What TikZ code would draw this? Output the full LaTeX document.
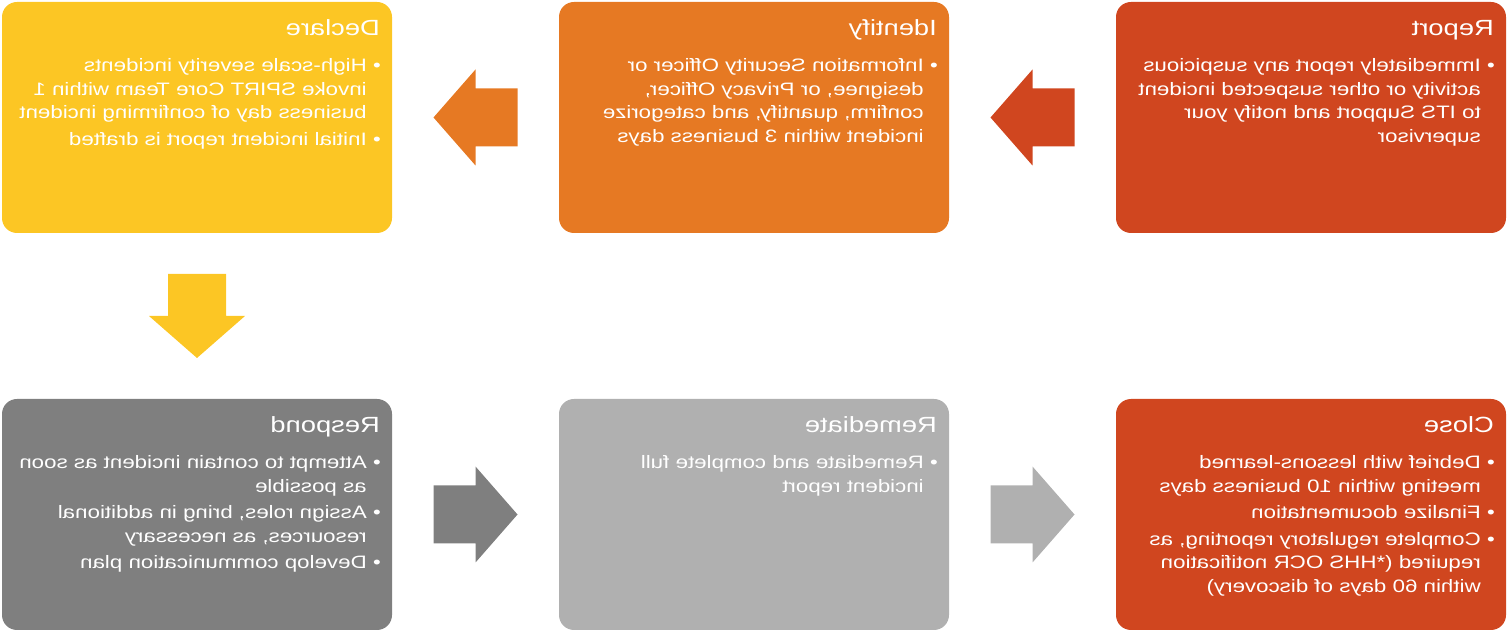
\documentclass[tikz,border=0pt]{standalone}
\usepackage{fontspec}
\setmainfont{Liberation Sans}
\usetikzlibrary{positioning, calc}
\definecolor{declareyellow}{RGB}{252,198,36}
\definecolor{identifyorange}{RGB}{230,121,35}
\definecolor{reportred}{RGB}{208,70,31}
\definecolor{respondgray}{RGB}{127,127,127}
\definecolor{remediategray}{RGB}{176,176,176}

% block arrow: centre, rotation, colour
\newcommand{\blockarrow}[3]{%
  \fill[#3, shift={(#1)}, rotate=#2] (-42,-29) -- (0,-29) -- (0,-48) -- (42,0)
    -- (0,48) -- (0,29) -- (-42,29) -- cycle;}
% bullet list
\newcommand{\itemlist}[1]{\begin{tabular}[t]{@{}l@{\hspace{5pt}}l@{}}#1\end{tabular}}

\begin{document}
\begin{tikzpicture}[x=1pt, y=1pt,
    stage/.style={rectangle, rounded corners=15pt, minimum width=390pt,
        minimum height=231pt, inner sep=0, outer sep=0},
    headtext/.style={text=white, font={\fontsize{22}{26}\selectfont},
        inner sep=0, anchor=base west, xscale=-1.24, transform shape},
    bullettext/.style={text=white, font={\fontsize{18}{23.5}\selectfont},
        inner sep=0, anchor=base west, xscale=-1.24, transform shape},
    node distance=167pt]
    \useasboundingbox (0,0) rectangle (1508,632);

    % top row
    \node[stage, fill=declareyellow] (declare) at (197,514.5) {};
    \node[stage, fill=identifyorange, right=of declare] (identify) {};
    \node[stage, fill=reportred, right=of identify] (report) {};

    % bottom row
    \node[stage, fill=respondgray, below=166pt of declare] (respond) {};
    \node[stage, fill=remediategray, right=of respond] (remediate) {};
    \node[stage, fill=reportred, right=of remediate] (close) {};

    % texts
    \node[headtext] (declaretitle) at ([xshift=-12pt,yshift=-34pt]declare.north east) {Declare};
    \node[bullettext] (declarebody) at ([xshift=-11pt,yshift=-70pt]declare.north east) {\itemlist{%
        \textbullet & High-scale severity incidents\\
        & invoke SPIRT Core Team within 1\\
        & business day of confirming incident\\[3pt]
        \textbullet & Initial incident report is drafted}};

    \node[headtext] (identifytitle) at ([xshift=-12pt,yshift=-34pt]identify.north east) {Identify};
    \node[bullettext] (identifybody) at ([xshift=-11pt,yshift=-70pt]identify.north east) {\itemlist{%
        \textbullet & Information Security Officer or\\
        & designee, or Privacy Officer,\\
        & confirm, quantify, and categorize\\
        & incident within 3 business days}};

    \node[headtext] (reporttitle) at ([xshift=-12pt,yshift=-34pt]report.north east) {Report};
    \node[bullettext] (reportbody) at ([xshift=-11pt,yshift=-70pt]report.north east) {\itemlist{%
        \textbullet & Immediately report any suspicious\\
        & activity or other suspected incident\\
        & to ITS Support and notify your\\
        & supervisor}};

    \node[headtext] (respondtitle) at ([xshift=-12pt,yshift=-34pt]respond.north east) {Respond};
    \node[bullettext] (respondbody) at ([xshift=-11pt,yshift=-70pt]respond.north east) {\itemlist{%
        \textbullet & Attempt to contain incident as soon\\
        & as possible\\[3pt]
        \textbullet & Assign roles, bring in additional\\
        & resources, as necessary\\[3pt]
        \textbullet & Develop communication plan}};

    \node[headtext] (remediatetitle) at ([xshift=-12pt,yshift=-34pt]remediate.north east) {Remediate};
    \node[bullettext] (remediatebody) at ([xshift=-11pt,yshift=-70pt]remediate.north east) {\itemlist{%
        \textbullet & Remediate and complete full\\
        & incident report}};

    \node[headtext] (closetitle) at ([xshift=-12pt,yshift=-34pt]close.north east) {Close};
    \node[bullettext] (closebody) at ([xshift=-11pt,yshift=-70pt]close.north east) {\itemlist{%
        \textbullet & Debrief with lessons-learned\\
        & meeting within 10 business days\\[3pt]
        \textbullet & Finalize documentation\\[3pt]
        \textbullet & Complete regulatory reporting, as\\
        & required (*HHS OCR notification\\
        & within 60 days of discovery)}};

    % arrows between stages
    \coordinate (reporttoidentify) at ($(report.west)!0.5!(identify.east)$);
    \coordinate (identifytodeclare) at ($(identify.west)!0.5!(declare.east)$);
    \coordinate (declaretorespond) at ($(declare.south)!0.5!(respond.north)$);
    \coordinate (respondtoremediate) at ($(respond.east)!0.5!(remediate.west)$);
    \coordinate (remediatetoclose) at ($(remediate.east)!0.5!(close.west)$);
    \blockarrow{reporttoidentify}{180}{reportred}
    \blockarrow{identifytodeclare}{180}{identifyorange}
    \blockarrow{declaretorespond}{-90}{declareyellow}
    \blockarrow{respondtoremediate}{0}{respondgray}
    \blockarrow{remediatetoclose}{0}{remediategray}
\end{tikzpicture}
\end{document}
